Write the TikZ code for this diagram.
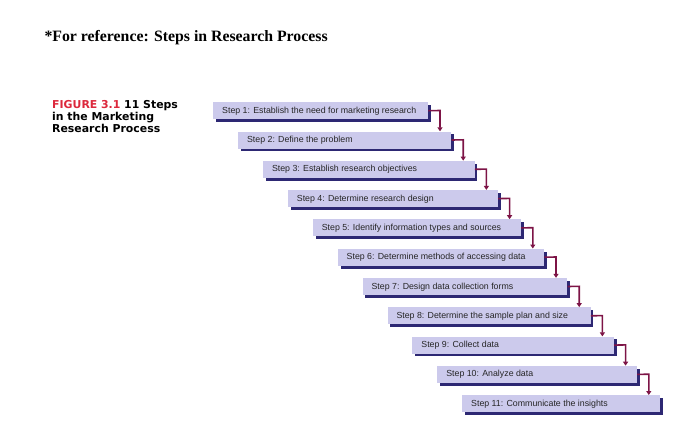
\documentclass[tikz,border=0pt]{standalone}
\usepackage{fontspec}
\setmainfont{Liberation Serif}
\setsansfont{Liberation Sans}
\newfontfamily\figfont{DejaVu Sans}
\usetikzlibrary{arrows.meta}
\definecolor{boxfill}{RGB}{204,202,236}
\definecolor{shad}{RGB}{45,40,115}
\definecolor{arr}{RGB}{125,20,70}
\definecolor{figred}{RGB}{220,40,60}
\tikzset{stepbox/.style={fill=boxfill,draw=none,anchor=north west,minimum height=17pt,inner sep=0pt},
steptext/.style={anchor=west,inner sep=0pt,font=\sffamily\fontsize{8.8}{9}\selectfont,text=black!85},
conn/.style={arr,line width=1.6pt,-{Triangle[length=4pt,width=5pt]}}}
\begin{document}
\begin{tikzpicture}[x=1pt,y=-1pt]
\useasboundingbox (0,0) rectangle (700,424);
\node[anchor=west,font=\bfseries\fontsize{15.8}{17}\selectfont] (title) at (41,38) {*For reference: Steps in Research Process};
\node[anchor=north west,align=left,inner sep=0pt,font=\figfont\bfseries\fontsize{10.9}{12}\selectfont] (fig) at (52,100)
 {\textcolor{figred}{FIGURE 3.1} 11 Steps\\in the Marketing\\Research Process};
\foreach \i/\t in {1/Step 1: Establish the need for marketing research,2/Step 2: Define the problem,3/Step 3: Establish research objectives,4/Step 4: Determine research design,5/Step 5: Identify information types and sources,6/Step 6: Determine methods of accessing data,7/Step 7: Design data collection forms,8/Step 8: Determine the sample plan and size,9/Step 9: Collect data,10/Step 10: Analyze data,11/Step 11: Communicate the insights}{
 \pgfmathsetmacro{\xl}{213+24.9*(\i-1)}
 \pgfmathsetmacro{\xr}{428+23.2*(\i-1)}
 \pgfmathsetmacro{\yt}{102+29.3*(\i-1)}
 \fill[shad] (\xl+3,\yt+3) rectangle (\xr+3,\yt+20);
 \node[stepbox,minimum width={(\xr-\xl)*1pt}] (s\i) at (\xl,\yt) {};
 \node[steptext] (t\i) at (\xl+9,\yt+9) {\t};
 \coordinate (c\i) at (\xr+12,\yt+8.5);
}
\foreach \i [evaluate=\i as \j using int(\i+1)] in {1,...,10}{
 \draw[conn] (s\i.east) -- (c\i) -- (c\i |- s\j.north);
}
\end{tikzpicture}
\end{document}
